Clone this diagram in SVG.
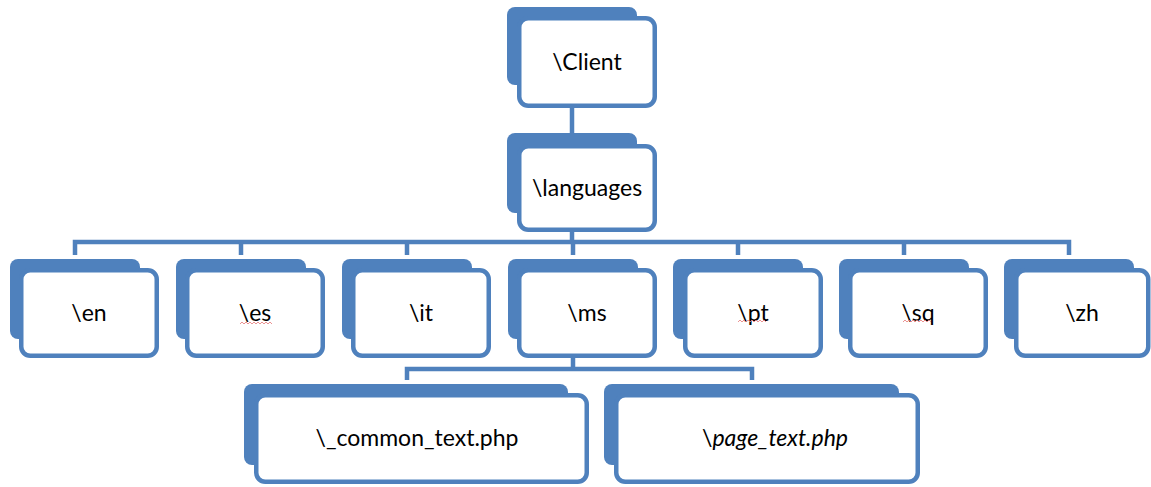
<svg xmlns="http://www.w3.org/2000/svg" width="1151" height="487" viewBox="0 0 1151 487">
<style>
.back{fill:#4F81BD;}
.front{fill:#FFFFFF;stroke:#4F81BD;stroke-width:4.5;}
.conn{fill:none;stroke:#4F81BD;stroke-width:4.5;stroke-linejoin:miter;}
.lbl{font-family:Lato,"Liberation Sans",sans-serif;font-size:23px;fill:#000000;text-anchor:middle;}
.it{font-style:italic;}
.sp{fill:none;stroke:#E88080;stroke-width:1;opacity:0.85;}
</style>
<rect width="1151" height="487" fill="#FFFFFF"/>
<g id="connectors">
<path class="conn" d="M572,108 V133"/>
<path class="conn" d="M572,232 V242"/>
<path class="conn" d="M75,255 V242 H1069 V255"/>
<path class="conn" d="M241,242 V255 M407,242 V255 M573,242 V255 M738,242 V255 M904,242 V255"/>
<path class="conn" d="M573,358 V369"/>
<path class="conn" d="M407,380 V369 H752 V380"/>
</g>
<g id="node-client">
<rect class="back" x="507" y="7" width="130" height="78" rx="8"/>
<rect class="front" x="519.25" y="18.25" width="135.5" height="87.5" rx="9"/>
<text class="lbl" x="587" y="70">\Client</text>
</g>
<g id="node-languages">
<rect class="back" x="507" y="133" width="130" height="80" rx="8"/>
<rect class="front" x="519.25" y="146.25" width="135.5" height="83.5" rx="9"/>
<text class="lbl" x="587" y="196">\languages</text>
</g>
<g id="node-en">
<rect class="back" x="10" y="259" width="130" height="80" rx="8"/>
<rect class="front" x="21.25" y="270.25" width="135.5" height="85.5" rx="9"/>
<text class="lbl" x="89" y="321">\en</text>
</g>
<g id="node-es">
<rect class="back" x="176" y="259" width="130" height="80" rx="8"/>
<rect class="front" x="187.25" y="270.25" width="135.5" height="85.5" rx="9"/>
<text class="lbl" x="255" y="321">\es</text>
<path class="sp" d="M240,324 l2,-2 l2,2 l2,-2 l2,2 l2,-2 l2,2 l2,-2 l2,2 l2,-2 l2,2 l2,-2 l2,2 l2,-2 l2,2 l2,-2 l2,2"/>
</g>
<g id="node-it">
<rect class="back" x="342" y="259" width="130" height="80" rx="8"/>
<rect class="front" x="353.25" y="270.25" width="135.5" height="85.5" rx="9"/>
<text class="lbl" x="421" y="321">\it</text>
</g>
<g id="node-ms">
<rect class="back" x="508" y="259" width="130" height="80" rx="8"/>
<rect class="front" x="519.25" y="270.25" width="135.5" height="85.5" rx="9"/>
<text class="lbl" x="587" y="321">\ms</text>
</g>
<g id="node-pt">
<rect class="back" x="673" y="259" width="130" height="80" rx="8"/>
<rect class="front" x="685.25" y="270.25" width="135.5" height="85.5" rx="9"/>
<text class="lbl" x="753" y="321">\pt</text>
<path class="sp" d="M738,322 l2,-2 l2,2 l2,-2 l2,2 l2,-2 l2,2 l2,-2 l2,2 l2,-2 l2,2 l2,-2 l2,2 l2,-2 l2,2"/>
</g>
<g id="node-sq">
<rect class="back" x="839" y="259" width="130" height="80" rx="8"/>
<rect class="front" x="850.25" y="270.25" width="135.5" height="85.5" rx="9"/>
<text class="lbl" x="918" y="321">\sq</text>
<path class="sp" d="M903,322 l2,-2 l2,2 l2,-2 l2,2 l2,-2 l2,2 l2,-2 l2,2 l2,-2 l2,2 l2,-2 l2,2 l2,-2 l2,2"/>
</g>
<g id="node-zh">
<rect class="back" x="1004" y="259" width="130" height="80" rx="8"/>
<rect class="front" x="1016.25" y="270.25" width="132" height="85.5" rx="9"/>
<text class="lbl" x="1082" y="321">\zh</text>
</g>
<g id="node-common-text">
<rect class="back" x="244" y="384" width="324" height="81" rx="8"/>
<rect class="front" x="256.25" y="395.25" width="330.5" height="86.5" rx="9"/>
<text class="lbl" x="417" y="446">\_common_text.php</text>
</g>
<g id="node-page-text">
<rect class="back" x="604" y="384" width="295" height="81" rx="8"/>
<rect class="front" x="616.25" y="395.25" width="301.5" height="86.5" rx="9"/>
<text class="lbl" x="775" y="446">\<tspan class="it">page_text.php</tspan></text>
</g>
</svg>
